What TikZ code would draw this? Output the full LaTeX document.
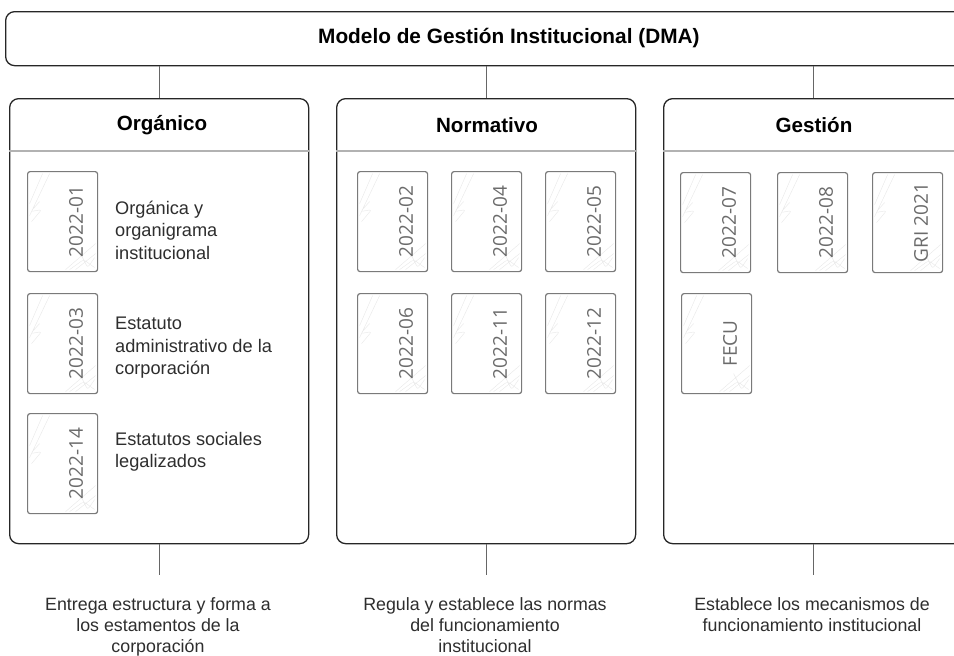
\documentclass[tikz,border=0pt]{standalone}
\usepackage{fontspec}
\setmainfont{Liberation Sans}
\newfontfamily\cardfont{Open Sans}
\begin{document}
\begin{tikzpicture}[x=1pt,y=-1pt,
  bar/.style={draw=black!85, line width=1.3pt, rounded corners=9pt, inner sep=0pt, anchor=north west},
  panel/.style={draw=black!85, line width=1.3pt, rounded corners=9pt, minimum width=299pt, minimum height=445pt, inner sep=0pt, anchor=north west},
  hdrline/.style={draw=black!30, line width=1.3pt},
  hdr/.style={font=\bfseries\fontsize{20.6}{22}\selectfont, text=black},
  card/.style={draw=black!52, line width=1.2pt, rounded corners=2.5pt, minimum width=70pt, minimum height=100pt, inner sep=0pt, anchor=north west,
    path picture={
      \draw[black!9, line width=0.4pt]
        ([shift={(2pt,-32pt)}]path picture bounding box.north west) -- ([shift={(15pt,-2pt)}]path picture bounding box.north west)
        ([shift={(2pt,-44pt)}]path picture bounding box.north west) -- ([shift={(22pt,-2pt)}]path picture bounding box.north west)
        ([shift={(4pt,-50pt)}]path picture bounding box.north west) -- ([shift={(14pt,-38pt)}]path picture bounding box.north west) -- ([shift={(3pt,-40pt)}]path picture bounding box.north west) -- ([shift={(12pt,-30pt)}]path picture bounding box.north west);
      \draw[black!9, line width=0.4pt]
        ([shift={(-32pt,2pt)}]path picture bounding box.south east) -- ([shift={(-2pt,28pt)}]path picture bounding box.south east)
        ([shift={(-22pt,2pt)}]path picture bounding box.south east) -- ([shift={(-2pt,18pt)}]path picture bounding box.south east)
        ([shift={(-28pt,2pt)}]path picture bounding box.south east) -- ([shift={(-14pt,12pt)}]path picture bounding box.south east) -- ([shift={(-3pt,4pt)}]path picture bounding box.south east)
        ([shift={(-18pt,20pt)}]path picture bounding box.south east) -- ([shift={(-10pt,4pt)}]path picture bounding box.south east) -- ([shift={(-3pt,14pt)}]path picture bounding box.south east);
    }},
  cardlbl/.style={font=\cardfont\fontsize{19}{19}\selectfont, text=black!58, rotate=90, inner sep=0pt},
  desc/.style={anchor=west, align=left, inner sep=0pt, font=\fontsize{18.2}{22.5}\selectfont, text=black!82},
  foot/.style={anchor=north, align=center, inner sep=0pt, font=\fontsize{17.8}{21}\selectfont, text=black!82},
  link/.style={draw=black!60, line width=0.8pt}
]
\clip (0,0) rectangle (954,656);
\fill[white] (0,0) rectangle (954,656);

% top bar
\node[bar, minimum width=1008pt, minimum height=54pt] (top) at (5,11) {};
\node[font=\bfseries\fontsize{20.8}{22}\selectfont, anchor=west, inner sep=0pt] (title) at (318,38) {Modelo de Gestión Institucional (DMA)};

% panels
\node[panel] (p1) at (9,98) {};
\node[panel] (p2) at (336,98) {};
\node[panel] (p3) at (663,98) {};

\foreach \p in {p1,p2,p3}{
  \draw[hdrline] ([yshift=-53pt]\p.north west) -- ([yshift=-53pt]\p.north east);
  \draw[link] (\p.north |- top.south) -- (\p.north);
}

\node[hdr] (h1) at (162,125) {Orgánico};
\node[hdr] (h2) at (487,125) {Normativo};
\node[hdr] (h3) at (814,125) {Gestión};

% Organico cards
\node[card] (c11) at (27,171) {};
\node[card] (c12) at (27,293) {};
\node[card] (c13) at (27,413) {};
\node[cardlbl] at ([xshift=13.5pt]c11.center) {2022-01};
\node[cardlbl] at ([xshift=13.5pt]c12.center) {2022-03};
\node[cardlbl] at ([xshift=13.5pt]c13.center) {2022-14};
\node[desc] (d1) at (115,230) {Orgánica y\\organigrama\\institucional};
\node[desc] (d2) at (115,348) {Estatuto\\administrativo de la\\corporación};
\node[desc] (d3) at (115,452) {Estatutos sociales\\legalizados};

% Normativo cards
\node[card] (c21) at (357,171) {};
\node[card] (c22) at (451,171) {};
\node[card] (c23) at (545,171) {};
\node[card] (c24) at (357,293) {};
\node[card] (c25) at (451,293) {};
\node[card] (c26) at (545,293) {};
\node[cardlbl] at ([xshift=13.5pt]c21.center) {2022-02};
\node[cardlbl] at ([xshift=13.5pt]c22.center) {2022-04};
\node[cardlbl] at ([xshift=13.5pt]c23.center) {2022-05};
\node[cardlbl] at ([xshift=13.5pt]c24.center) {2022-06};
\node[cardlbl] at ([xshift=13.5pt]c25.center) {2022-11};
\node[cardlbl] at ([xshift=13.5pt]c26.center) {2022-12};

% Gestion cards
\node[card] (c31) at (680,172) {};
\node[card] (c32) at (777,172) {};
\node[card] (c33) at (872,172) {};
\node[card] (c34) at (681,293) {};
\node[cardlbl] at ([xshift=13.5pt]c31.center) {2022-07};
\node[cardlbl] at ([xshift=13.5pt]c32.center) {2022-08};
\node[cardlbl] at ([xshift=13.5pt]c33.center) {GRI 2021};
\node[cardlbl] at ([xshift=13.5pt]c34.center) {FECU};

% bottom connectors and texts
\coordinate (e1) at (p1.south |- 0,575);
\coordinate (e2) at (p2.south |- 0,575);
\coordinate (e3) at (p3.south |- 0,575);
\draw[link] (p1.south) -- (e1);
\draw[link] (p2.south) -- (e2);
\draw[link] (p3.south) -- (e3);
\node[foot] (f1) at (158,597) {Entrega estructura y forma a\\los estamentos de la\\corporación};
\node[foot] (f2) at (485,597) {Regula y establece las normas\\del funcionamiento\\institucional};
\node[foot] (f3) at (812,597) {Establece los mecanismos de\\funcionamiento institucional};
\end{tikzpicture}
\end{document}
